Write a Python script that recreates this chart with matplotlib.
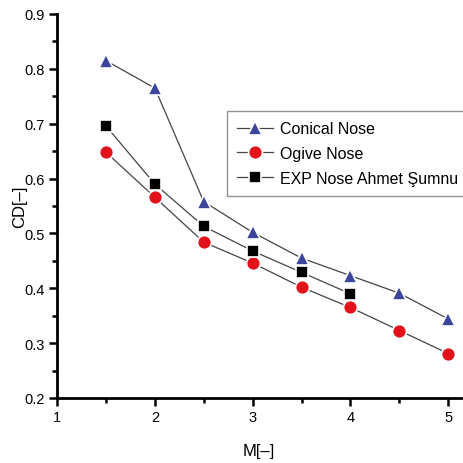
import matplotlib
matplotlib.use("Agg")
import matplotlib.pyplot as plt
from matplotlib.ticker import MultipleLocator, FormatStrFormatter

plt.rcParams['font.family'] = ['Liberation Sans', 'DejaVu Sans']

mach = [1.5, 2.0, 2.5, 3.0, 3.5, 4.0, 4.5, 5.0]
conical = [0.815, 0.765, 0.558, 0.502, 0.455, 0.423, 0.391, 0.344]
ogive = [0.648, 0.566, 0.484, 0.446, 0.402, 0.365, 0.323, 0.281]
mach_exp = [1.5, 2.0, 2.5, 3.0, 3.5, 4.0]
exp_sumnu = [0.696, 0.590, 0.513, 0.468, 0.429, 0.390]

labels = ["Conical Nose", "Ogive Nose", "EXP Nose Ahmet Şumnu"]

fig = plt.figure(figsize=(4.63, 4.64), dpi=100)
ax = fig.add_axes([57/463, 65/464, (461-57)/463, (399-15)/464])

lc = '#444444'
ax.plot(mach, conical, color=lc, lw=0.9, marker='^', ms=10.5, mfc='#3a469c',
        mec='white', mew=1.2, label=labels[0])
ax.plot(mach, ogive, color=lc, lw=0.9, marker='o', ms=10, mfc='#e31119',
        mec='white', mew=1.2, label=labels[1])
ax.plot(mach_exp, exp_sumnu, color=lc, lw=0.9, marker='s', ms=9, mfc='black',
        mec='white', mew=1.2, label=labels[2])

ax.set_xlim(1, 5.13)
ax.set_ylim(0.2, 0.9)
ax.set_xticks([1, 2, 3, 4, 5])
ax.xaxis.set_minor_locator(MultipleLocator(0.5))
ax.yaxis.set_major_locator(MultipleLocator(0.1))
ax.yaxis.set_minor_locator(MultipleLocator(0.05))
ax.yaxis.set_major_formatter(FormatStrFormatter('%.1f'))

for s in ['top', 'right']:
    ax.spines[s].set_visible(False)
for s in ['left', 'bottom']:
    ax.spines[s].set_linewidth(2)
ax.tick_params(which='major', direction='out', length=6, width=1.8, labelsize=10.5, pad=3)
ax.tick_params(which='minor', direction='out', length=3.5, width=1.8)

ax.set_xlabel('M[–]', fontsize=12, labelpad=13.5)
ax.set_ylabel('CD[–]', fontsize=12, labelpad=-2)

leg = ax.legend(loc='upper left',
                bbox_to_anchor=((227 - 57) / 404, 1 - (112 - 15) / 384),
                fontsize=11.5, frameon=True, fancybox=False, edgecolor='#777777',
                handlelength=2.2, handletextpad=0.45, labelspacing=0.6,
                borderpad=0.65, borderaxespad=0)
leg.get_frame().set_linewidth(1.0)

fig.savefig('out.png', dpi=100)
